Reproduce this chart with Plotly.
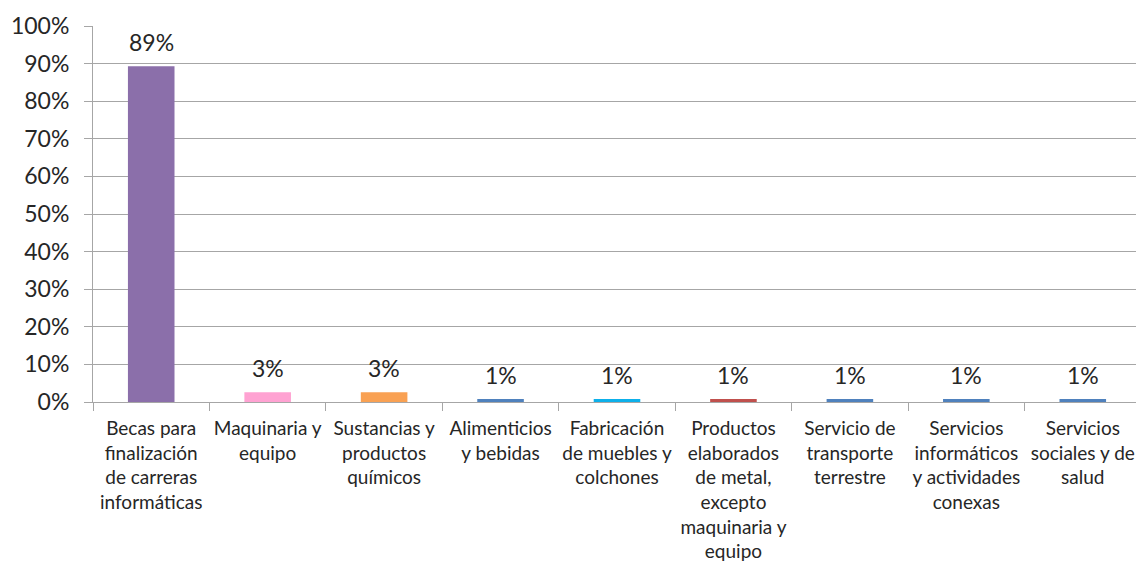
import plotly.graph_objects as go

categories = [
    "Becas para<br>finalización<br>de carreras<br>informáticas",
    "Maquinaria y<br>equipo",
    "Sustancias y<br>productos<br>químicos",
    "Alimenticios<br>y bebidas",
    "Fabricación<br>de muebles y<br>colchones",
    "Productos<br>elaborados<br>de metal,<br>excepto<br>maquinaria y<br>equipo",
    "Servicio de<br>transporte<br>terrestre",
    "Servicios<br>informáticos<br>y actividades<br>conexas",
    "Servicios<br>sociales y de<br>salud",
]
shares = [0.893, 0.026, 0.026, 0.008, 0.008, 0.008, 0.008, 0.008, 0.008]
bar_colors = ["#8B6FAA", "#FFA2D2", "#F9A153", "#4F81BD", "#0DB0EA",
              "#C0504D", "#4F81BD", "#4F81BD", "#4F81BD"]
y_ticks = [i / 10 for i in range(11)]

font_family = "Lato, 'Liberation Sans', Arial, sans-serif"
grid_color = "#A6A6A6"

fig = go.Figure()
fig.add_trace(go.Bar(
    x=categories,
    y=shares,
    marker=dict(color=bar_colors, line=dict(width=0)),
    width=0.4,
    hoverinfo="skip",
))

# data labels above each bar
for cat, val in zip(categories, shares):
    fig.add_annotation(
        x=cat, y=val, text=f"{val:.0%}", showarrow=False,
        yanchor="bottom", yshift=8,
        font=dict(family=font_family, size=23, color="#262626"),
    )

# page body has an 8px margin, so the figure is offset by that much
fig.update_layout(
    width=1144, height=569,
    margin=dict(l=85, r=11, t=18, b=175),
    paper_bgcolor="white", plot_bgcolor="white",
    showlegend=False,
    font=dict(family=font_family, color="#262626"),
)
fig.update_xaxes(
    type="category",
    automargin=False,
    tickson="boundaries",
    ticks="outside", ticklen=8, tickcolor=grid_color,
    showline=True, linecolor=grid_color, linewidth=1,
    showgrid=False,
    tickangle=0,
    ticklabelstandoff=9,
    tickfont=dict(size=19, color="#262626"),
)
fig.update_yaxes(
    range=[0, 1],
    automargin=False,
    tickvals=y_ticks,
    tickformat=".0%",
    ticks="outside", ticklen=8, tickcolor=grid_color,
    showline=True, linecolor=grid_color, linewidth=1,
    showgrid=True, gridcolor=grid_color, gridwidth=1,
    zeroline=False,
    ticklabelstandoff=10,
    tickfont=dict(size=23, color="#262626"),
)

fig.write_html("out.html")
